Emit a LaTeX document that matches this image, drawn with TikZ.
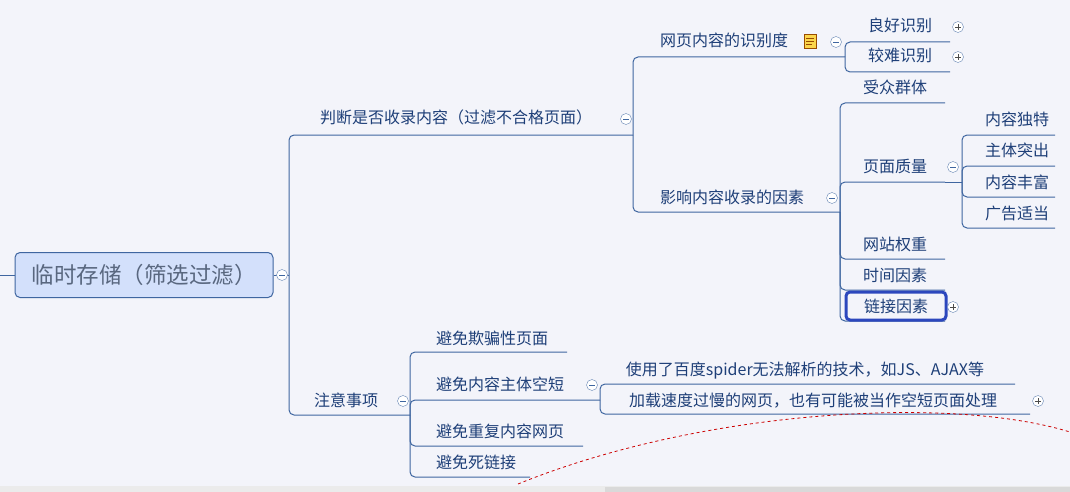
\documentclass[tikz,border=0pt]{standalone}
\usepackage{fontspec}
\setmainfont{Noto Sans CJK SC}
\definecolor{bgpaper}{HTML}{F3F4FA}
\definecolor{linkblue}{HTML}{3F66A0}
\definecolor{inkblue}{HTML}{1E3F78}
\definecolor{rootfill}{HTML}{D3E0FB}
\tikzset{
  link/.style={draw=linkblue, line width=1pt, rounded corners=5},
  topic/.style={inner sep=0pt, anchor=base, text=inkblue, font=\fontsize{16}{16}\selectfont},
  fold/.style={circle, draw=linkblue!80, fill=white, inner sep=0pt, minimum size=11pt},
  foldminus/.style={fold, path picture={\draw[linkblue] ([xshift=-3pt]path picture bounding box.center) -- ([xshift=3pt]path picture bounding box.center);}},
  foldplus/.style={fold, path picture={\draw[black!70] ([xshift=-3pt]path picture bounding box.center) -- ([xshift=3pt]path picture bounding box.center) ([yshift=-3pt]path picture bounding box.center) -- ([yshift=3pt]path picture bounding box.center);}}
}
\begin{document}
\begin{tikzpicture}[x=1pt,y=-1pt]
  \fill[bgpaper] (0,0) rectangle (1070,492);
  \useasboundingbox (0,0) rectangle (1070,492);
  \fill[black!8] (0,486) rectangle (1070,492);
  \fill[black!15] (605,487) rectangle (1070,492);
  % root
  \draw[link] (0,275) -- (15,275);
  \node[draw=linkblue, line width=1pt, fill=rootfill, rounded corners=5, minimum width=258pt, minimum height=45pt, text=inkblue!60!black!70, font=\fontsize{22.5}{22.5}\selectfont] (root) at (144,275) {临时存储（筛选过滤）};
  \draw[link] (root.east) -- (289,275);
  \node[foldminus] (rf) at (282,275) {};
  % main branches
  \draw[link] (289,275) |- (633,135);
  \draw[link] (289,275) |- (410,415);
  \node[topic] (judge) at (456,124) {判断是否收录内容（过滤不合格页面）};
  \node[foldminus] at (626,119) {};
  \node[topic] (note) at (346,406) {注意事项};
  \node[foldminus] at (403,401) {};
  % recognition
  \draw[link] (633,135) |- (845,57);
  \node[topic] (recog) at (724,47) {网页内容的识别度};
  \fill[yellow!60!orange!70] (804,34) rectangle (816,48);
  \draw[orange!60!black] (804,34) rectangle (816,48) (806,38) -- (814,38) (806,41) -- (814,41) (806,44) -- (812,44);
  \node[foldminus] at (836,42) {};
  \draw[link] (845,57) |- (950,42);
  \draw[link] (845,57) |- (950,72);
  \node[topic] (good) at (900,32) {良好识别};
  \node[foldplus] at (958,27) {};
  \node[topic] (hard) at (900,62) {较难识别};
  \node[foldplus] at (958,57) {};
  % factors
  \draw[link] (633,135) |- (840,212);
  \node[topic] (factor) at (732,203) {影响内容收录的因素};
  \node[foldminus] at (832,198) {};
  \foreach \y in {103,182,259,290,321}
    \draw[link] (840,212) |- (945,\y);
  \node[topic] (aud) at (895,94) {受众群体};
  \node[topic] (qual) at (895,172) {页面质量};
  \node[foldminus] at (953,167) {};
  \draw[link] (945,182) -- (962,182);
  \foreach \y in {135,166,197,228}
    \draw[link] (962,182) |- (1055,\y);
  \node[topic] (uniq) at (1017,125) {内容独特};
  \node[topic] (main) at (1017,156) {主体突出};
  \node[topic] (rich) at (1017,188) {内容丰富};
  \node[topic] (ads) at (1017,219) {广告适当};
  \node[topic] (weight) at (895,250) {网站权重};
  \node[topic] (time) at (895,281) {时间因素};
  \node[topic, draw=linkblue!70!blue, line width=3pt, rounded corners=4, fill=bgpaper, minimum width=100pt, minimum height=28pt, anchor=center, inner sep=2pt] (linkf) at (896,306) {链接因素};
  \node[foldplus] at (953,307) {};
  % cautions
  \foreach \y/\e in {352/567,400/600,446/583,477/530}
    \draw[link] (410,415) |- (\e,\y);
  \node[topic] (cheat) at (492,344) {避免欺骗性页面};
  \node[topic] (empty) at (500,390) {避免内容主体空短};
  \node[foldminus] at (592,385) {};
  \draw[link] (600,400) |- (1015,384);
  \draw[link] (600,400) |- (1030,414);
  \node[topic] (spider) at (805,375) {使用了百度spider无法解析的技术，如JS、AJAX等};
  \node[topic] (slow) at (813,406) {加载速度过慢的网页，也有可能被当作空短页面处理};
  \node[foldplus] at (1038,401) {};
  \node[topic] (dup) at (500,437) {避免重复内容网页};
  \node[topic] (dead) at (476,468) {避免死链接};
  % red dashed arc
  \draw[red!80!black, dashed, line width=0.8pt] (518,484) .. controls (700,410) and (950,395) .. (1070,432);
\end{tikzpicture}
\end{document}
